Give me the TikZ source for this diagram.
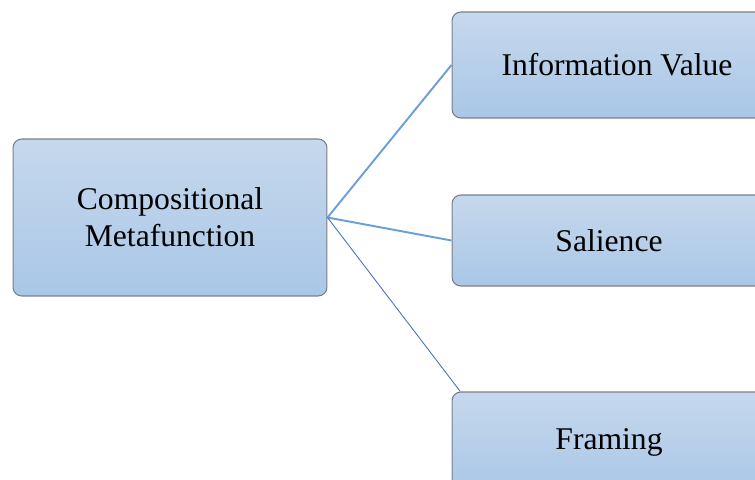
\documentclass[tikz,border=0pt]{standalone}
\usepackage{fontspec}
\setmainfont{Liberation Serif}
\usepackage{xcolor}

\begin{document}
\begin{tikzpicture}[x=0.02cm,y=-0.02cm,
  mybox/.style={rectangle,rounded corners=5pt,draw=boxline,line width=0.6pt,
    top color=boxtop,bottom color=boxbot,minimum width=6.28cm,
    align=center,font=\fontsize{18}{21}\selectfont},
  myline/.style={draw=linkblue,line width=1.1pt}]
\definecolor{boxtop}{HTML}{C6D8ED}
\definecolor{boxbot}{HTML}{A9C7E7}
\definecolor{boxline}{HTML}{7A7F86}
\definecolor{linkblue}{HTML}{6A9FD8}
\definecolor{thinblue}{HTML}{4472C4}
\useasboundingbox (0,0) rectangle (755,480);
\clip (0,0) rectangle (755,480);
  \node [mybox,minimum height=3.14cm] (comp) at (170,217.5) {Compositional\\Metafunction};
  \node [mybox,minimum height=2.12cm,minimum width=6.6cm] (info) at (617,65) {Information Value};
  \node [mybox,minimum height=1.82cm] (sal) at (609,240.5) {Salience};
  \node [mybox,minimum height=2.0cm] (fram) at (609,442) {Framing};
  \draw [myline] (comp.east) -- (info.west);
  \draw [myline] (comp.east) -- (sal.west);
  \draw [draw=thinblue,line width=0.5pt] (comp.east) -- ([xshift=5]fram.north west);
\end{tikzpicture}
\end{document}
